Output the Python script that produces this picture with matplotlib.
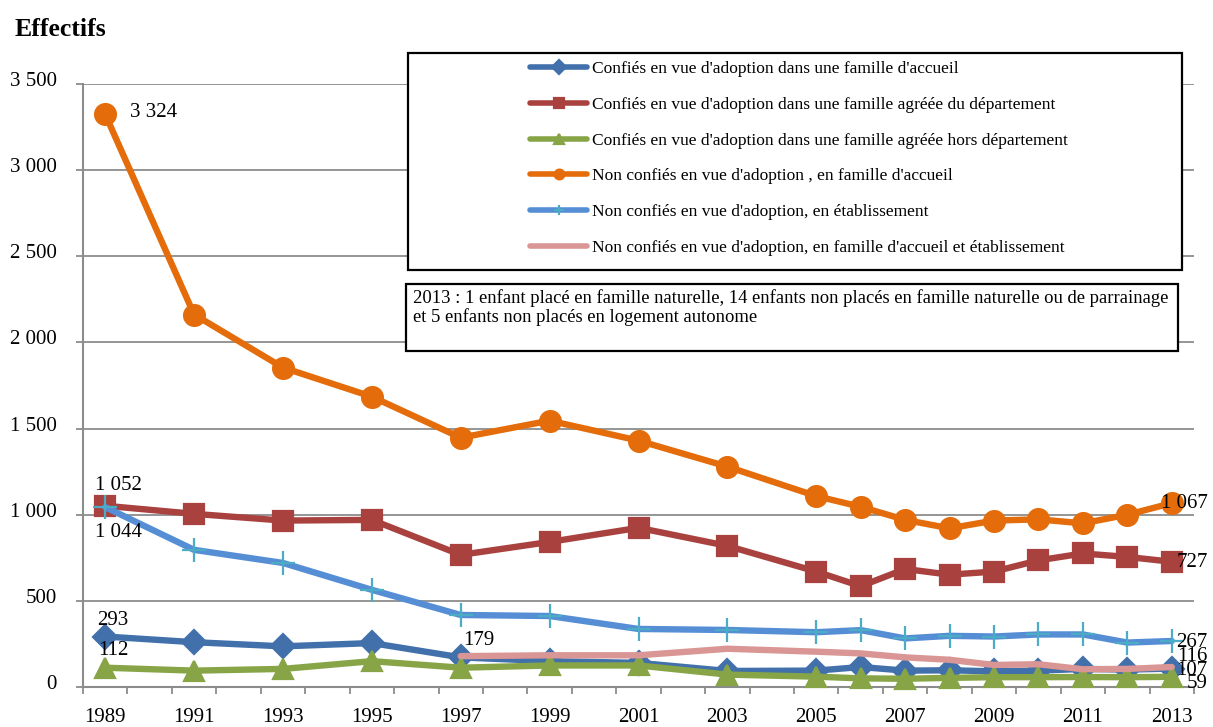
import matplotlib
matplotlib.use("Agg")
import matplotlib.pyplot as plt
import matplotlib.transforms as mtransforms
from matplotlib.patches import Rectangle
from matplotlib.ticker import FuncFormatter, FixedLocator
import numpy as np

plt.rcParams['font.family'] = ['Liberation Serif', 'DejaVu Serif']

# data
years = [1989, 1991, 1993, 1995, 1997, 1999, 2001, 2003, 2005,
         2006, 2007, 2008, 2009, 2010, 2011, 2012, 2013]
adopt_accueil = [293, 260, 236, 255, 172, 150, 140, 93, 95, 116, 95, 97, 91, 95, 105, 101, 107]
adopt_dept = [1052, 1005, 966, 970, 767, 842, 924, 819, 670, 585, 685, 652, 670, 735, 775, 755, 727]
adopt_hors_dept = [112, 95, 105, 150, 112, 125, 125, 72, 60, 50, 48, 53, 57, 57, 58, 57, 59]
non_adopt_accueil = [3324, 2162, 1854, 1685, 1447, 1546, 1430, 1279, 1108, 1046, 970, 921, 966, 973, 950, 1000, 1067]
non_adopt_etab = [1044, 796, 720, 564, 418, 412, 337, 331, 318, 330, 282, 297, 293, 305, 305, 258, 267]
non_adopt_mixte = [np.nan, np.nan, np.nan, np.nan, 179, 184, 184, 222, 205, 195, 172, 158, 128, 132, 103, 105, 116]

labels = [
    "Confiés en vue d'adoption dans une famille d'accueil",
    "Confiés en vue d'adoption dans une famille agréée du département",
    "Confiés en vue d'adoption dans une famille agréée hors département",
    "Non confiés en vue d'adoption , en famille d'accueil",
    "Non confiés en vue d'adoption, en établissement",
    "Non confiés en vue d'adoption, en famille d'accueil et établissement",
]
year_ticks = list(range(1989, 2014, 2))
y_ticks = list(range(0, 3501, 500))

W, H = 1213, 727
fig = plt.figure(figsize=(W / 100, H / 100), dpi=100)
ax = fig.add_axes([83 / W, 40 / H, (1194 - 83) / W, (687 - 84) / H])

# (values, colour, marker, markersize, marker colour)
styles = [
    (adopt_accueil, '#4170AB', 'D', 12, '#4170AB'),
    (adopt_dept, '#A9423F', 's', 14, '#A9423F'),
    (adopt_hors_dept, '#87A547', '^', 15, '#87A547'),
    (non_adopt_accueil, '#E46C0A', 'o', 15, '#E46C0A'),
    (non_adopt_etab, '#558ED5', '+', 17, '#4BACC6'),
    (non_adopt_mixte, '#D99694', None, 0, '#D99694'),
]
handles = []
for i, (vals, col, mk, ms, mc) in enumerate(styles):
    ln, = ax.plot(years, vals, color=col, lw=4.6, marker=mk, ms=ms,
                  mfc=mc, mec=mc, mew=1.6, solid_joinstyle='round',
                  solid_capstyle='round', zorder=3 + i, label=labels[i], clip_on=False)
    handles.append(ln)

ax.set_xlim(1988.5, 2013.5)
ax.set_ylim(0, 3500)

grey = '#8c8c8c'
ax.yaxis.set_major_locator(FixedLocator(y_ticks))
ax.yaxis.set_major_formatter(FuncFormatter(lambda v, p: f"{v:,.0f}".replace(",", " ")))
ax.grid(axis='y', color=grey, lw=1.3, zorder=0)
ax.set_axisbelow(True)
ax.xaxis.set_major_locator(FixedLocator(year_ticks))
ax.xaxis.set_minor_locator(FixedLocator(np.arange(1988.5, 2014, 1)))
ax.tick_params(axis='x', which='major', length=0, pad=15, labelsize=15)
ax.tick_params(axis='x', which='minor', length=5, width=1.3, color=grey, direction='out')
ax.tick_params(axis='y', length=5, width=1.3, color=grey, pad=14, labelsize=15)
for s in ['top', 'right']:
    ax.spines[s].set_visible(False)
for s in ['left', 'bottom']:
    ax.spines[s].set_color(grey)
    ax.spines[s].set_linewidth(1.5)

# excel puts the value labels a touch above the gridlines
shift = mtransforms.ScaledTranslation(0, 5 / 100, fig.dpi_scale_trans)
for t in ax.get_yticklabels():
    t.set_transform(t.get_transform() + shift)

# data labels, offsets in pixels
def lab(x, y, dx, dy, ha='center'):
    ax.annotate(f"{y:,.0f}".replace(",", " "), (x, y), xytext=(dx * 0.72, dy * 0.72),
                textcoords='offset points', ha=ha, va='center', fontsize=15, zorder=20,
                annotation_clip=False)

lab(years[0], non_adopt_accueil[0], 25, 2, 'left')
lab(years[0], adopt_dept[0], 13, 20)
lab(years[0], non_adopt_etab[0], 13, -25)
lab(years[0], adopt_accueil[0], 8, 16)
lab(years[0], adopt_hors_dept[0], 8, 17)
lab(years[4], non_adopt_mixte[4], 2, 16, 'left')
lab(years[-1], non_adopt_accueil[-1], 36, 0, 'right')
lab(years[-1], adopt_dept[-1], 36, -1, 'right')
lab(years[-1], non_adopt_etab[-1], 36, -2, 'right')
lab(years[-1], non_adopt_mixte[-1], 36, 11, 'right')
lab(years[-1], adopt_accueil[-1], 36, -2, 'right')
lab(years[-1], adopt_hors_dept[-1], 36, -7, 'right')

fig.text(15 / W, 1 - 30 / H, "Effectifs", fontsize=18.5, fontweight='bold', va='center')

# legend frame and entries
fig.patches.append(Rectangle((408 / W, 1 - 270 / H), 774 / W, 217 / H, transform=fig.transFigure,
                             fill=True, facecolor='white', edgecolor='black', lw=1.6, zorder=30))
leg = fig.legend(handles=handles, loc='upper left', bbox_to_anchor=(530 / W, 1 - 61 / H),
                 frameon=False, borderpad=0, borderaxespad=0, handlelength=3.3,
                 handletextpad=0.25, labelspacing=1.13, fontsize=12.5)
leg.set_zorder(31)
for h in leg.legend_handles:
    h.set_markersize(7)
    h.set_linewidth(4)

fig.patches.append(Rectangle((406 / W, 1 - 351 / H), 772 / W, 67 / H, transform=fig.transFigure,
                             fill=True, facecolor='white', edgecolor='black', lw=1.6, zorder=30))
fig.text(413 / W, 1 - 289 / H,
         "2013 : 1 enfant placé en famille naturelle, 14 enfants non placés en famille naturelle ou de parrainage\n"
         "et 5 enfants non placés en logement autonome",
         fontsize=13.4, va='top', linespacing=1.12, zorder=32)

fig.savefig("out.png", dpi=100)
